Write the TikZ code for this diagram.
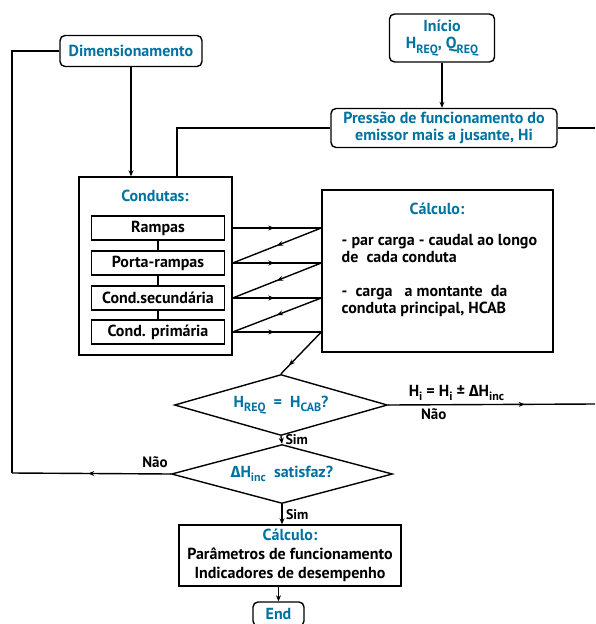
\documentclass[tikz,border=0pt]{standalone}
\usepackage{fontspec}
\setmainfont{PT Sans}
\newfontfamily\grkfont{Fira Sans}
\usetikzlibrary{shapes.geometric,decorations.markings,arrows.meta}
\definecolor{titleblue}{RGB}{0,114,160}
\newcommand\lowtxt[1]{\raisebox{-0.55ex}{\fontsize{12}{12}\selectfont #1}}
\newcommand\dlt{{\grkfont\bfseries Δ}}

\begin{document}
\begin{tikzpicture}[x=1pt,y=-1pt,line width=1.4pt,
    >={Stealth[length=6pt,width=5pt]},
    every node/.style={font=\bfseries\fontsize{16}{17}\selectfont},
    rbox/.style={draw, rounded corners=5pt, align=center, inner sep=0pt},
    sbox/.style={draw, align=center, inner sep=0pt},
    dbox/.style={draw, diamond, aspect=3.5, inner sep=0pt},
    small/.style={font=\bfseries\fontsize{14}{15}\selectfont},
    midarr/.style={postaction={decorate, decoration={markings,
        mark=at position #1 with {\arrow{Stealth[length=6pt,width=5pt]}}}}}]
    \useasboundingbox (0,0) rectangle (595,624);

    % top boxes
    \node[rbox, minimum width=142, minimum height=31, text=titleblue] (dim) at (131,51) {Dimensionamento};
    \node[rbox, minimum width=105, minimum height=48, text=titleblue] (ini) at (442,38) {Início\\H\lowtxt{REQ}, Q\lowtxt{REQ}};
    \node[rbox, minimum width=226, minimum height=39, text=titleblue] (pres) at (444,128) {Pressão de funcionamento do\\emissor mais a jusante, Hi};

    % condutas
    \node[sbox, minimum width=153, minimum height=178] (cond) at (155.5,266) {};
    \node[text=titleblue] (condt) at (155,196) {Condutas:};
    \node[sbox, minimum width=133, minimum height=24] (ramp) at (158,228) {Rampas};
    \node[sbox, minimum width=133, minimum height=24] (porta) at (158,263) {Porta-rampas};
    \node[sbox, minimum width=133, minimum height=24] (sec) at (158,298) {Cond.secundária};
    \node[sbox, minimum width=133, minimum height=24] (prim) at (158,332) {Cond. primária};

    % calculo
    \node[sbox, minimum width=231, minimum height=162] (calc) at (437.5,271) {};
    \node[text=titleblue] (calct) at (437,209) {Cálculo:};
    \node[align=left, anchor=north west, inner sep=0pt] (calcx) at (341,234) {- par carga - caudal ao longo\\de\ \ cada conduta\\[17pt]-\ \ carga\ \ \ a montante\ \ da\\conduta principal, HCAB};

    % decisoes
    \node[dbox, minimum width=213, minimum height=61, text=titleblue] (d1) at (281,405) {H\lowtxt{REQ}\ \ =\ \ H\lowtxt{CAB}?};
    \node[dbox, minimum width=221, minimum height=59, text=titleblue] (d2) at (282,474) {\dlt H\lowtxt{inc}\ \ satisfaz?};

    \node[sbox, minimum width=222, minimum height=61, font=\bfseries\fontsize{16}{19}\selectfont] (res) at (290,555.5) {{\color{titleblue}Cálculo:}\\Parâmetros de funcionamento\\Indicadores de desempenho};
    \node[rbox, minimum width=51, minimum height=24, text=titleblue] (endn) at (278.5,614) {End};

    \coordinate (ct) at (177,177);
    \coordinate (pe) at (595,128);
    \coordinate (lb) at (12,473);
    \coordinate (lt) at (12,51);
    \coordinate (re) at (595,404);

    \draw[->] (ini.south) -- (ini.south |- pres.north);
    \draw (pres.west) -| (ct);
    \draw (pres.east) -- (pe);
    \draw[->] (dim.south) -- (dim.south |- cond.north);

    \draw (ramp) -- (porta);
    \draw (porta) -- (sec);
    \draw (sec) -- (prim);

    \foreach \b in {ramp,porta,sec,prim}
        \draw[midarr=0.47] (\b -| cond.east) -- (\b -| calc.west);
    \foreach \a/\b in {ramp/porta,porta/sec,sec/prim}
        \draw[midarr=0.5] (\a -| calc.west) -- (\b -| cond.east);
    \draw[midarr=0.8] (prim -| calc.west) -- (d1.north);

    \draw[midarr=0.66] (d1.east) -- (re)
        node[pos=0.33, above] {H\lowtxt{i} = H\lowtxt{i} ± \dlt H\lowtxt{inc}}
        node[pos=0.22, below, font=\bfseries\fontsize{15}{17}\selectfont] {Não};
    \draw[->] (d1.south) -- (d2.north) node[midway, right, small] {Sim};
    \draw[midarr=0.52] (d2.west) -- (lb);
    \draw (lb) -- (lt) -- (dim.west);
    \node[font=\bfseries\fontsize{15}{17}\selectfont] (nao) at (155,462) {Não};
    \draw[->] (d2.south) -- (d2.south |- res.north) node[midway, right, small] {Sim};
    \draw[->] (endn.north |- res.south) -- (endn.north);
\end{tikzpicture}
\end{document}
